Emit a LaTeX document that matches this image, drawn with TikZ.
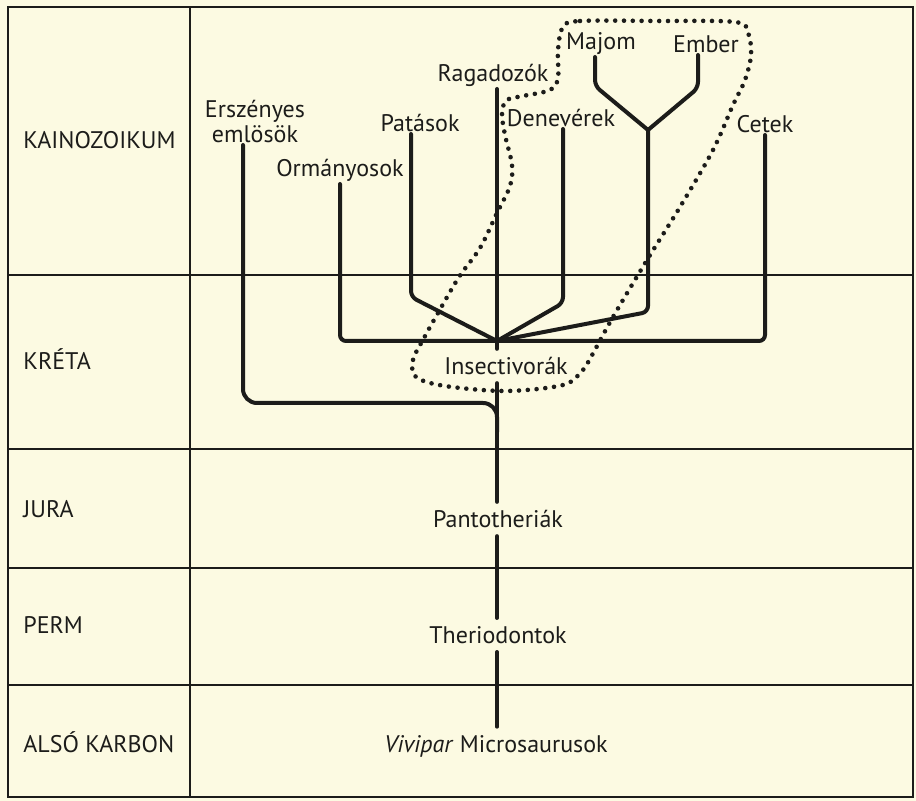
\documentclass[tikz,border=0pt]{standalone}
\usepackage{fontspec}
\setmainfont{PT Sans}
\usepackage{tikz}

\definecolor{paper}{RGB}{252,250,226}
\definecolor{ink}{RGB}{28,28,26}

\begin{document}
\begin{tikzpicture}[x=0.5pt, y=-0.5pt, font=\fontsize{12}{13.5}\selectfont,
        branch/.style={draw=ink, line width=2pt, line join=round, line cap=round, rounded corners=3pt},
        gridline/.style={draw=ink, line width=0.7pt},
        tip/.style={text=ink, anchor=south, inner sep=1pt, align=center},
        stemlabel/.style={text=ink, inner sep=4pt},
        era/.style={text=ink, anchor=west, inner sep=0pt}]
            % Paper and frame
            \fill[paper] (0,0) rectangle (916,801);
            \useasboundingbox (0,0) rectangle (916,801);
            \draw[ink, line width=1pt] (8,7) rectangle (913,797);
            \draw[gridline] (190,7) -- (190,797);
            \foreach \y in {275,449,568,685}
                \draw[gridline] (8,\y) -- (913,\y);

            % Eras
            \node[era] (kaino) at (23,140) {KAINOZOIKUM};
            \node[era] (kreta) at (23,359) {KRÉTA};
            \node[era] (jura) at (23,509) {JURA};
            \node[era] (perm) at (23,625) {PERM};
            \node[era] (karbon) at (23,742) {ALSÓ KARBON};

            % Tips of the tree
            \node[tip] (ersz) at (255,145) {Erszényes\\[-1pt]emlösök};
            \node[tip] (orm) at (340,184) {Ormányosok};
            \node[tip] (pat) at (420,134) {Patások};
            \node[tip] (rag) at (493,89) {Ragadozók};
            \node[tip] (den) at (561,129) {Denevérek};
            \node[tip] (maj) at (601,57) {Majom};
            \node[tip] (emb) at (706,55) {Ember};
            \node[tip] (cet) at (765,135) {Cetek};

            % Stem labels
            \node[stemlabel] (insect) at (506,366) {Insectivorák};
            \node[stemlabel] (panto) at (498,519) {Pantotheriák};
            \node[stemlabel] (therio) at (498,635) {Theriodontok};
            \node[stemlabel] (vivi) at (496,746) {\textit{Vivipar} Microsaurusok};

            % Junctions and bends
            \coordinate (J) at (497,341);
            \coordinate (F) at (648,130);
            \coordinate (M) at (497,432);
            \coordinate (erszbend) at (243,403);
            \coordinate (patbend) at (411,297);
            \coordinate (denbend) at (563,303);
            \coordinate (majbend) at (595,86);
            \coordinate (embbend) at (698,88);
            \coordinate (stembend) at (648,312);

            % Branches
            \draw[branch] (orm.south) |- (J) -| (cet.south);
            \draw[branch] (rag.south -| J) -- (J);
            \draw[branch] (pat.south -| patbend) -- (patbend) -- (J);
            \draw[branch] (den.south -| denbend) -- (denbend) -- (J);
            \draw[branch] (maj.south -| majbend) -- (majbend) -- (F);
            \draw[branch] (emb.south -| embbend) -- (embbend) -- (F);
            \draw[branch] (F) -- (stembend) -- (J);
            \draw[branch, rounded corners=7pt] (ersz.south -| erszbend) -- (erszbend) -- (erszbend -| M) -- (M);

            % Main stem
            \draw[branch] (J) -- (J |- insect.north);
            \draw[branch] (insect.south -| J) -- (panto.north -| J);
            \draw[branch] (panto.south -| J) -- (therio.north -| J);
            \draw[branch] (therio.south -| J) -- (vivi.north -| J);

            % Dotted outline round the primates and insectivores
            \draw[ink, line width=2.3pt, line cap=round, dash pattern=on 0pt off 4.4pt]
                plot[smooth cycle, tension=0.55] coordinates {
                    (563,27) (580,21) (655,21) (735,22) (748,33) (751,55) (745,80)
                    (733,105) (713,150) (680,207) (647,260) (613,317) (591,357)
                    (582,371) (563,385) (506,391) (445,386) (416,377) (413,360)
                    (424,338) (438,313) (459,277) (480,248) (497,213) (510,186)
                    (512,165) (505,135) (502,113) (507,100) (523,96) (550,90)
                    (558,78) (558,50)};
        \end{tikzpicture}
\end{document}
